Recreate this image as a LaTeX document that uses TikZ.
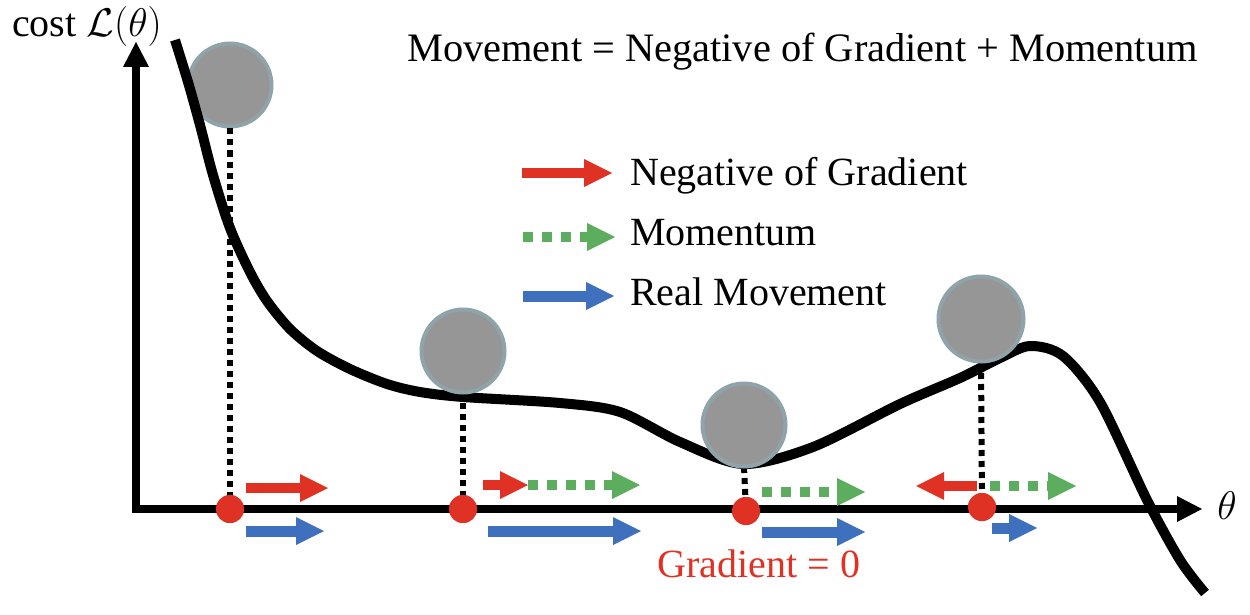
\RequirePackage{fix-cm}
\documentclass[tikz,border=0pt]{standalone}
\usepackage{fontspec}
\setmainfont{Liberation Serif}
\usetikzlibrary{arrows.meta}
\definecolor{gradred}{RGB}{224,50,36}
\definecolor{momgreen}{RGB}{92,173,94}
\definecolor{realblue}{RGB}{63,112,190}
\definecolor{ballgray}{RGB}{150,150,150}
\definecolor{ballrim}{RGB}{143,163,170}
\tikzstyle{axis} = [draw, line width=8pt, {Triangle[length=25pt,width=26pt,line width=0pt]}-{Triangle[length=25pt,width=26pt,line width=0pt]}]
\tikzstyle{costline} = [draw, line width=10pt]
\tikzstyle{drop} = [draw, line width=6pt, dash pattern=on 6pt off 5pt]
\tikzstyle{ball} = [circle, fill=ballgray, draw=ballrim, line width=4pt, minimum size=83pt, inner sep=0pt]
\tikzstyle{dot} = [circle, fill=gradred, minimum size=28pt, inner sep=0pt]
\tikzstyle{grad} = [draw=gradred, line width=10pt, -{Triangle[length=28pt,width=28pt,line width=0pt]}]
\tikzstyle{mom} = [draw=momgreen, line width=10pt, dash pattern=on 10pt off 9pt, -{Triangle[length=28pt,width=28pt,line width=0pt]}]
\tikzstyle{real} = [draw=realblue, line width=11pt, -{Triangle[length=28pt,width=28pt,line width=0pt]}]
\tikzstyle{txt} = [inner sep=0pt, font=\fontsize{40}{48}\selectfont]
\begin{document}
\begin{tikzpicture}[x=1pt, y=-1pt]
		\useasboundingbox (0,0) rectangle (1250,615);
		
		% first ball lies under the curve
		\node[ball] (ball1) at (230,85) {};
		
		% points on the theta axis
		\coordinate (O) at (136,509);
		\coordinate (ytop) at (136,42);
		\coordinate (xend) at (1202,509);
		\node[dot] (pt1) at (230,509) {};
		\node[dot] (pt2) at (463,509) {};
		\node[dot] (pt3) at (746,511) {};
		\node[dot] (pt4) at (982,507) {};
		
		\path [drop] (ball1.south) to (pt1.center);
		\path [drop] (463,392) to (pt2.center);
		\path [drop] (744,467) to (pt3.center);
		\path [drop] (981,362) to (pt4.center);
		
		\path [costline] plot[smooth, tension=0.5] coordinates {(175,40) (188,82) (200,125) (213,175) (230,228) (250,272) (267,301) (290,329) (317,351) (350,369) (387,384) (420,392) (463,397) (560,403) (620,412) (680,442) (743,464) (813,447) (900,404) (960,378) (1000,358) (1030,346) (1063,356) (1100,402) (1147,500) (1180,560) (1205,593)};
		
		% other balls sit on top of the curve
		\node[ball] (ball2) at (463,351) {};
		\node[ball] (ball3) at (744,425) {};
		\node[ball, minimum size=85pt] (ball4) at (981,319) {};
		
		\path [axis] (ytop) to (O) to (xend);
		
		% redraw dots above the axis
		\node[dot] at (pt1) {};
		\node[dot] at (pt2) {};
		\node[dot] at (pt3) {};
		\node[dot] at (pt4) {};
		
		% labels
		\node[txt, anchor=base west] (costlbl) at (12,37) {cost $\mathcal{L}(\theta)$};
		\node[txt] (thetalbl) at (1227,506) {$\theta$};
		\node[txt, anchor=base west, font=\fontsize{40.4}{48}\selectfont] (title) at (407,62) {Movement = Negative of Gradient + Momentum};
		\node[txt, anchor=base, text=gradred] (zerolbl) at (759,577) {Gradient = 0};
		
		% legend
		\coordinate (lg1s) at (522,173); \coordinate (lg1e) at (612,173);
		\coordinate (lg2s) at (523,237); \coordinate (lg2e) at (615,237);
		\coordinate (lg3s) at (523,296); \coordinate (lg3e) at (614,296);
		\path [grad] (lg1s) to (lg1e);
		\path [mom] (lg2s) to (lg2e);
		\path [real] (lg3s) to (lg3e);
		\node[txt, anchor=base west] (lgt1) at (630,185) {Negative of Gradient};
		\node[txt, anchor=base west] (lgt2) at (630,245) {Momentum};
		\node[txt, anchor=base west] (lgt3) at (630,305) {Real Movement};
		
		% arrows at point 1
		\coordinate (g1s) at (246,488); \coordinate (g1e) at (328,488);
		\coordinate (r1s) at (246,531); \coordinate (r1e) at (324,531);
		\path [grad] (g1s) to (g1e);
		\path [real] (r1s) to (r1e);
		
		% arrows at point 2
		\coordinate (g2s) at (483,485); \coordinate (g2e) at (528,485);
		\coordinate (m2e) at (640,485);
		\coordinate (r2s) at (488,531); \coordinate (r2e) at (641,531);
		\path [mom] (g2e) to (m2e);
		\path [grad] (g2s) to (g2e);
		\path [real] (r2s) to (r2e);
		
		% arrows at point 3
		\coordinate (m3s) at (762,492); \coordinate (m3e) at (865,492);
		\coordinate (r3s) at (762,532); \coordinate (r3e) at (865,532);
		\path [mom] (m3s) to (m3e);
		\path [real] (r3s) to (r3e);
		
		% arrows at point 4
		\coordinate (g4s) at (977,486); \coordinate (g4e) at (916,486);
		\coordinate (m4s) at (990,486); \coordinate (m4e) at (1076,486);
		\coordinate (r4s) at (992,528); \coordinate (r4e) at (1037,528);
		\path [grad] (g4s) to (g4e);
		\path [mom] (m4s) to (m4e);
		\path [real] (r4s) to (r4e);
\end{tikzpicture}
\end{document}
